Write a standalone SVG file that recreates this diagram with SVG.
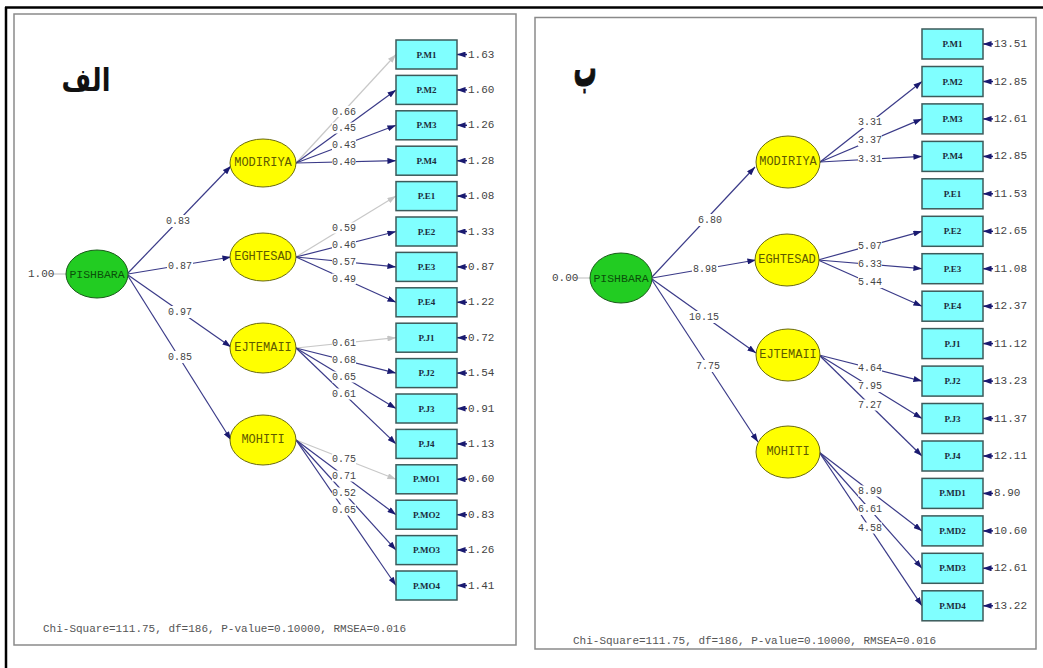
<svg xmlns="http://www.w3.org/2000/svg" width="1043" height="668" viewBox="0 0 1043 668">
<defs>
<marker id="ah" viewBox="0 0 10 7" refX="10" refY="3.5" markerWidth="9" markerHeight="6" markerUnits="userSpaceOnUse" orient="auto"><path d="M0,0 L10,3.5 L0,7 z" fill="#1a1a70"/></marker>
<marker id="ahg" viewBox="0 0 10 7" refX="10" refY="3.5" markerWidth="9" markerHeight="6" markerUnits="userSpaceOnUse" orient="auto"><path d="M0,0 L10,3.5 L0,7 z" fill="#c4c4c4"/></marker>
<style>
.ln{stroke:#3a3a88;stroke-width:1.2;fill:none;marker-end:url(#ah)}
.lg{stroke:#c8c8c8;stroke-width:1.2;fill:none;marker-end:url(#ahg)}
.lr{stroke:#1a1a70;stroke-width:1.5;fill:none;marker-end:url(#ah)}
.lv{stroke:#bbbbbb;stroke-width:1;fill:none}
.bg{fill:#fff}
.lb{font-family:"Liberation Mono",monospace;font-size:10px;fill:#444;text-anchor:middle;dominant-baseline:central}
.rs{font-family:"Liberation Mono",monospace;font-size:11px;fill:#444;dominant-baseline:central}
.bx{fill:#80ffff;stroke:#3c5a5a;stroke-width:1.5}
.bt{font-family:"Liberation Serif",serif;font-size:9px;fill:#1c2c3c;text-anchor:middle;dominant-baseline:central;font-weight:bold}
.el{fill:#ffff00;stroke:#6a6a10;stroke-width:1}
.eg{fill:#22cc22;stroke:#1a5a1a;stroke-width:1}
.et{font-family:"Liberation Mono",monospace;font-size:12px;fill:#5e5a00;text-anchor:middle;dominant-baseline:central}
.gt{font-family:"Liberation Mono",monospace;font-size:11.5px;fill:#0a500a;text-anchor:middle;dominant-baseline:central}
.ft{font-family:"Liberation Mono",monospace;font-size:11px;fill:#555}
.pn{fill:#fff;stroke:#8a8a8a;stroke-width:1.5}
.ar{font-family:"DejaVu Sans",sans-serif;font-weight:bold;font-size:32px;fill:#111;text-anchor:middle}
</style>
</defs>
<rect x="0" y="0" width="1043" height="668" fill="#fff"/>
<g id="frame">
<line x1="5" y1="7.5" x2="1043" y2="7.5" stroke="#000" stroke-width="2.5"/>
<line x1="6" y1="7" x2="6" y2="668" stroke="#000" stroke-width="2.5"/>
<rect class="pn" x="14" y="14" width="502" height="631"/>
<rect class="pn" x="535" y="17.5" width="501" height="631.5"/>
</g>
<text class="ar" transform="translate(86,91) scale(0.8,1)">الف</text>
<text class="ar" style="font-size:34px;stroke:#111;stroke-width:0.8" transform="translate(585,86) scale(0.68,1.5)">ب</text>

<g id="connectors-a">
<line class="lv" x1="52" y1="274" x2="66" y2="274"/>
<line class="ln" x1="128" y1="273" x2="231" y2="166"/>
<line class="ln" x1="128" y1="274" x2="231" y2="257"/>
<line class="ln" x1="128" y1="275" x2="231" y2="347"/>
<line class="ln" x1="128" y1="276" x2="231" y2="440"/>
<line class="lg" x1="296" y1="163" x2="396" y2="54.5"/>
<line class="ln" x1="296" y1="163" x2="396" y2="89.9"/>
<line class="ln" x1="296" y1="163" x2="396" y2="125.3"/>
<line class="ln" x1="296" y1="163" x2="396" y2="160.7"/>
<line class="lg" x1="296" y1="257" x2="396" y2="196.1"/>
<line class="ln" x1="296" y1="257" x2="396" y2="231.5"/>
<line class="ln" x1="296" y1="257" x2="396" y2="266.9"/>
<line class="ln" x1="296" y1="257" x2="396" y2="302.3"/>
<line class="lg" x1="296" y1="348" x2="396" y2="337.7"/>
<line class="ln" x1="296" y1="348" x2="396" y2="373.1"/>
<line class="ln" x1="296" y1="348" x2="396" y2="408.5"/>
<line class="ln" x1="296" y1="348" x2="396" y2="443.9"/>
<line class="lg" x1="296" y1="440" x2="396" y2="479.3"/>
<line class="ln" x1="296" y1="440" x2="396" y2="514.7"/>
<line class="ln" x1="296" y1="440" x2="396" y2="550.1"/>
<line class="ln" x1="296" y1="440" x2="396" y2="585.5"/>
<line class="lr" x1="467" y1="54.5" x2="457" y2="54.5"/>
<line class="lr" x1="467" y1="89.9" x2="457" y2="89.9"/>
<line class="lr" x1="467" y1="125.3" x2="457" y2="125.3"/>
<line class="lr" x1="467" y1="160.7" x2="457" y2="160.7"/>
<line class="lr" x1="467" y1="196.1" x2="457" y2="196.1"/>
<line class="lr" x1="467" y1="231.5" x2="457" y2="231.5"/>
<line class="lr" x1="467" y1="266.9" x2="457" y2="266.9"/>
<line class="lr" x1="467" y1="302.3" x2="457" y2="302.3"/>
<line class="lr" x1="467" y1="337.7" x2="457" y2="337.7"/>
<line class="lr" x1="467" y1="373.1" x2="457" y2="373.1"/>
<line class="lr" x1="467" y1="408.5" x2="457" y2="408.5"/>
<line class="lr" x1="467" y1="443.9" x2="457" y2="443.9"/>
<line class="lr" x1="467" y1="479.3" x2="457" y2="479.3"/>
<line class="lr" x1="467" y1="514.7" x2="457" y2="514.7"/>
<line class="lr" x1="467" y1="550.1" x2="457" y2="550.1"/>
<line class="lr" x1="467" y1="585.5" x2="457" y2="585.5"/>
<rect class="bg" x="165" y="215" width="26" height="12"/><text class="lb" x="178" y="221">0.83</text>
<rect class="bg" x="167" y="260" width="26" height="12"/><text class="lb" x="180" y="266">0.87</text>
<rect class="bg" x="167" y="306" width="26" height="12"/><text class="lb" x="180" y="312">0.97</text>
<rect class="bg" x="167" y="351" width="26" height="12"/><text class="lb" x="180" y="357">0.85</text>
<rect class="bg" x="332" y="106" width="24" height="11"/><text class="lb" x="344" y="112">0.66</text>
<rect class="bg" x="332" y="122.5" width="24" height="11"/><text class="lb" x="344" y="128">0.45</text>
<rect class="bg" x="332" y="139.5" width="24" height="11"/><text class="lb" x="344" y="145">0.43</text>
<rect class="bg" x="332" y="156.5" width="24" height="11"/><text class="lb" x="344" y="162">0.40</text>
<rect class="bg" x="332" y="222.5" width="24" height="11"/><text class="lb" x="344" y="228">0.59</text>
<rect class="bg" x="332" y="239.5" width="24" height="11"/><text class="lb" x="344" y="245">0.46</text>
<rect class="bg" x="332" y="256.5" width="24" height="11"/><text class="lb" x="344" y="262">0.57</text>
<rect class="bg" x="332" y="273.5" width="24" height="11"/><text class="lb" x="344" y="279">0.49</text>
<rect class="bg" x="332" y="337.5" width="24" height="11"/><text class="lb" x="344" y="343">0.61</text>
<rect class="bg" x="332" y="354.5" width="24" height="11"/><text class="lb" x="344" y="360">0.68</text>
<rect class="bg" x="332" y="371.5" width="24" height="11"/><text class="lb" x="344" y="377">0.65</text>
<rect class="bg" x="332" y="388.5" width="24" height="11"/><text class="lb" x="344" y="394">0.61</text>
<rect class="bg" x="332" y="453.5" width="24" height="11"/><text class="lb" x="344" y="459">0.75</text>
<rect class="bg" x="332" y="470.5" width="24" height="11"/><text class="lb" x="344" y="476">0.71</text>
<rect class="bg" x="332" y="487.5" width="24" height="11"/><text class="lb" x="344" y="493">0.52</text>
<rect class="bg" x="332" y="504.5" width="24" height="11"/><text class="lb" x="344" y="510">0.65</text>
</g>

<g id="a-PISHBARA"><text class="rs" x="28" y="274">1.00</text><ellipse class="eg" cx="97" cy="274" rx="31" ry="24"/><text class="gt" x="97" y="274">PISHBARA</text></g>
<g id="a-MODIRIYA"><ellipse class="el" cx="263" cy="163" rx="33" ry="24"/><text class="et" x="263" y="163">MODIRIYA</text></g>
<g id="a-EGHTESAD"><ellipse class="el" cx="263" cy="257" rx="33" ry="24"/><text class="et" x="263" y="257">EGHTESAD</text></g>
<g id="a-EJTEMAII"><ellipse class="el" cx="263" cy="348" rx="33" ry="25"/><text class="et" x="263" y="348">EJTEMAII</text></g>
<g id="a-MOHITI"><ellipse class="el" cx="263" cy="440" rx="33" ry="25"/><text class="et" x="263" y="440">MOHITI</text></g>

<g id="a-PM1"><rect class="bx" x="396" y="40" width="61" height="29"/><text class="bt" x="426.5" y="54.5">P.M1</text><text class="rs" x="468" y="54.5">1.63</text></g>
<g id="a-PM2"><rect class="bx" x="396" y="75.4" width="61" height="29"/><text class="bt" x="426.5" y="89.9">P.M2</text><text class="rs" x="468" y="89.9">1.60</text></g>
<g id="a-PM3"><rect class="bx" x="396" y="110.8" width="61" height="29"/><text class="bt" x="426.5" y="125.3">P.M3</text><text class="rs" x="468" y="125.3">1.26</text></g>
<g id="a-PM4"><rect class="bx" x="396" y="146.2" width="61" height="29"/><text class="bt" x="426.5" y="160.7">P.M4</text><text class="rs" x="468" y="160.7">1.28</text></g>
<g id="a-PE1"><rect class="bx" x="396" y="181.6" width="61" height="29"/><text class="bt" x="426.5" y="196.1">P.E1</text><text class="rs" x="468" y="196.1">1.08</text></g>
<g id="a-PE2"><rect class="bx" x="396" y="217" width="61" height="29"/><text class="bt" x="426.5" y="231.5">P.E2</text><text class="rs" x="468" y="231.5">1.33</text></g>
<g id="a-PE3"><rect class="bx" x="396" y="252.4" width="61" height="29"/><text class="bt" x="426.5" y="266.9">P.E3</text><text class="rs" x="468" y="266.9">0.87</text></g>
<g id="a-PE4"><rect class="bx" x="396" y="287.8" width="61" height="29"/><text class="bt" x="426.5" y="302.3">P.E4</text><text class="rs" x="468" y="302.3">1.22</text></g>
<g id="a-PJ1"><rect class="bx" x="396" y="323.2" width="61" height="29"/><text class="bt" x="426.5" y="337.7">P.J1</text><text class="rs" x="468" y="337.7">0.72</text></g>
<g id="a-PJ2"><rect class="bx" x="396" y="358.6" width="61" height="29"/><text class="bt" x="426.5" y="373.1">P.J2</text><text class="rs" x="468" y="373.1">1.54</text></g>
<g id="a-PJ3"><rect class="bx" x="396" y="394" width="61" height="29"/><text class="bt" x="426.5" y="408.5">P.J3</text><text class="rs" x="468" y="408.5">0.91</text></g>
<g id="a-PJ4"><rect class="bx" x="396" y="429.4" width="61" height="29"/><text class="bt" x="426.5" y="443.9">P.J4</text><text class="rs" x="468" y="443.9">1.13</text></g>
<g id="a-PMO1"><rect class="bx" x="396" y="464.8" width="61" height="29"/><text class="bt" x="426.5" y="479.3">P.MO1</text><text class="rs" x="468" y="479.3">0.60</text></g>
<g id="a-PMO2"><rect class="bx" x="396" y="500.2" width="61" height="29"/><text class="bt" x="426.5" y="514.7">P.MO2</text><text class="rs" x="468" y="514.7">0.83</text></g>
<g id="a-PMO3"><rect class="bx" x="396" y="535.6" width="61" height="29"/><text class="bt" x="426.5" y="550.1">P.MO3</text><text class="rs" x="468" y="550.1">1.26</text></g>
<g id="a-PMO4"><rect class="bx" x="396" y="571" width="61" height="29"/><text class="bt" x="426.5" y="585.5">P.MO4</text><text class="rs" x="468" y="585.5">1.41</text></g>
<text class="ft" x="43" y="632">Chi-Square=111.75, df=186, P-value=0.10000, RMSEA=0.016</text>

<g id="connectors-b">
<line class="lv" x1="575" y1="278" x2="590" y2="278"/>
<line class="ln" x1="652" y1="277" x2="755" y2="167"/>
<line class="ln" x1="652" y1="278" x2="756" y2="260"/>
<line class="ln" x1="652" y1="279" x2="756" y2="353"/>
<line class="ln" x1="652" y1="280" x2="758" y2="442"/>
<line class="ln" x1="820" y1="162" x2="922" y2="81.5"/>
<line class="ln" x1="820" y1="162" x2="922" y2="118.9"/>
<line class="ln" x1="820" y1="162" x2="922" y2="156.4"/>
<line class="ln" x1="818" y1="260" x2="922" y2="231.3"/>
<line class="ln" x1="818" y1="260" x2="922" y2="268.7"/>
<line class="ln" x1="818" y1="260" x2="922" y2="306.2"/>
<line class="ln" x1="819" y1="355" x2="922" y2="381.1"/>
<line class="ln" x1="819" y1="355" x2="922" y2="418.5"/>
<line class="ln" x1="819" y1="355" x2="922" y2="456"/>
<line class="ln" x1="819" y1="452" x2="922" y2="530.9"/>
<line class="ln" x1="819" y1="452" x2="922" y2="568.3"/>
<line class="ln" x1="819" y1="452" x2="922" y2="605.8"/>
<line class="lr" x1="993" y1="44" x2="983" y2="44"/>
<line class="lr" x1="993" y1="81.5" x2="983" y2="81.5"/>
<line class="lr" x1="993" y1="118.9" x2="983" y2="118.9"/>
<line class="lr" x1="993" y1="156.4" x2="983" y2="156.4"/>
<line class="lr" x1="993" y1="193.8" x2="983" y2="193.8"/>
<line class="lr" x1="993" y1="231.3" x2="983" y2="231.3"/>
<line class="lr" x1="993" y1="268.7" x2="983" y2="268.7"/>
<line class="lr" x1="993" y1="306.2" x2="983" y2="306.2"/>
<line class="lr" x1="993" y1="343.6" x2="983" y2="343.6"/>
<line class="lr" x1="993" y1="381.1" x2="983" y2="381.1"/>
<line class="lr" x1="993" y1="418.5" x2="983" y2="418.5"/>
<line class="lr" x1="993" y1="456" x2="983" y2="456"/>
<line class="lr" x1="993" y1="493.4" x2="983" y2="493.4"/>
<line class="lr" x1="993" y1="530.9" x2="983" y2="530.9"/>
<line class="lr" x1="993" y1="568.3" x2="983" y2="568.3"/>
<line class="lr" x1="993" y1="605.8" x2="983" y2="605.8"/>
<rect class="bg" x="697" y="214" width="26" height="12"/><text class="lb" x="710" y="220">6.80</text>
<rect class="bg" x="692" y="263" width="26" height="12"/><text class="lb" x="705" y="269">8.98</text>
<rect class="bg" x="688" y="311" width="32" height="12"/><text class="lb" x="704" y="317">10.15</text>
<rect class="bg" x="695" y="360" width="26" height="12"/><text class="lb" x="708" y="366">7.75</text>
<rect class="bg" x="858" y="117" width="24" height="11"/><text class="lb" x="870" y="122.5">3.31</text>
<rect class="bg" x="858" y="135.4" width="24" height="11"/><text class="lb" x="870" y="140.9">3.37</text>
<rect class="bg" x="858" y="153.7" width="24" height="11"/><text class="lb" x="870" y="159.2">3.31</text>
<rect class="bg" x="858" y="240.5" width="24" height="11"/><text class="lb" x="870" y="246">5.07</text>
<rect class="bg" x="858" y="258.8" width="24" height="11"/><text class="lb" x="870" y="264.3">6.33</text>
<rect class="bg" x="858" y="277.1" width="24" height="11"/><text class="lb" x="870" y="282.6">5.44</text>
<rect class="bg" x="858" y="362.5" width="24" height="11"/><text class="lb" x="870" y="368">4.64</text>
<rect class="bg" x="858" y="381" width="24" height="11"/><text class="lb" x="870" y="386.5">7.95</text>
<rect class="bg" x="858" y="399.5" width="24" height="11"/><text class="lb" x="870" y="405">7.27</text>
<rect class="bg" x="858" y="485.5" width="24" height="11"/><text class="lb" x="870" y="491">8.99</text>
<rect class="bg" x="858" y="504" width="24" height="11"/><text class="lb" x="870" y="509.5">6.61</text>
<rect class="bg" x="858" y="522.5" width="24" height="11"/><text class="lb" x="870" y="528">4.58</text>
</g>

<g id="b-PISHBARA"><text class="rs" x="552" y="278">0.00</text><ellipse class="eg" cx="621" cy="278" rx="31" ry="25"/><text class="gt" x="621" y="278">PISHBARA</text></g>
<g id="b-MODIRIYA"><ellipse class="el" cx="788" cy="162" rx="32" ry="26"/><text class="et" x="788" y="162">MODIRIYA</text></g>
<g id="b-EGHTESAD"><ellipse class="el" cx="787" cy="260" rx="32" ry="26"/><text class="et" x="787" y="260">EGHTESAD</text></g>
<g id="b-EJTEMAII"><ellipse class="el" cx="788" cy="355" rx="32" ry="26"/><text class="et" x="788" y="355">EJTEMAII</text></g>
<g id="b-MOHITI"><ellipse class="el" cx="788" cy="452" rx="32" ry="26"/><text class="et" x="788" y="452">MOHITI</text></g>

<g id="b-PM1"><rect class="bx" x="922" y="29" width="61" height="30"/><text class="bt" x="952.5" y="44">P.M1</text><text class="rs" x="994" y="44">13.51</text></g>
<g id="b-PM2"><rect class="bx" x="922" y="66.5" width="61" height="30"/><text class="bt" x="952.5" y="81.5">P.M2</text><text class="rs" x="994" y="81.5">12.85</text></g>
<g id="b-PM3"><rect class="bx" x="922" y="103.9" width="61" height="30"/><text class="bt" x="952.5" y="118.9">P.M3</text><text class="rs" x="994" y="118.9">12.61</text></g>
<g id="b-PM4"><rect class="bx" x="922" y="141.4" width="61" height="30"/><text class="bt" x="952.5" y="156.4">P.M4</text><text class="rs" x="994" y="156.4">12.85</text></g>
<g id="b-PE1"><rect class="bx" x="922" y="178.8" width="61" height="30"/><text class="bt" x="952.5" y="193.8">P.E1</text><text class="rs" x="994" y="193.8">11.53</text></g>
<g id="b-PE2"><rect class="bx" x="922" y="216.3" width="61" height="30"/><text class="bt" x="952.5" y="231.3">P.E2</text><text class="rs" x="994" y="231.3">12.65</text></g>
<g id="b-PE3"><rect class="bx" x="922" y="253.7" width="61" height="30"/><text class="bt" x="952.5" y="268.7">P.E3</text><text class="rs" x="994" y="268.7">11.08</text></g>
<g id="b-PE4"><rect class="bx" x="922" y="291.2" width="61" height="30"/><text class="bt" x="952.5" y="306.2">P.E4</text><text class="rs" x="994" y="306.2">12.37</text></g>
<g id="b-PJ1"><rect class="bx" x="922" y="328.6" width="61" height="30"/><text class="bt" x="952.5" y="343.6">P.J1</text><text class="rs" x="994" y="343.6">11.12</text></g>
<g id="b-PJ2"><rect class="bx" x="922" y="366.1" width="61" height="30"/><text class="bt" x="952.5" y="381.1">P.J2</text><text class="rs" x="994" y="381.1">13.23</text></g>
<g id="b-PJ3"><rect class="bx" x="922" y="403.5" width="61" height="30"/><text class="bt" x="952.5" y="418.5">P.J3</text><text class="rs" x="994" y="418.5">11.37</text></g>
<g id="b-PJ4"><rect class="bx" x="922" y="441" width="61" height="30"/><text class="bt" x="952.5" y="456">P.J4</text><text class="rs" x="994" y="456">12.11</text></g>
<g id="b-PMD1"><rect class="bx" x="922" y="478.4" width="61" height="30"/><text class="bt" x="952.5" y="493.4">P.MD1</text><text class="rs" x="994" y="493.4">8.90</text></g>
<g id="b-PMD2"><rect class="bx" x="922" y="515.9" width="61" height="30"/><text class="bt" x="952.5" y="530.9">P.MD2</text><text class="rs" x="994" y="530.9">10.60</text></g>
<g id="b-PMD3"><rect class="bx" x="922" y="553.3" width="61" height="30"/><text class="bt" x="952.5" y="568.3">P.MD3</text><text class="rs" x="994" y="568.3">12.61</text></g>
<g id="b-PMD4"><rect class="bx" x="922" y="590.8" width="61" height="30"/><text class="bt" x="952.5" y="605.8">P.MD4</text><text class="rs" x="994" y="605.8">13.22</text></g>
<text class="ft" x="573" y="644">Chi-Square=111.75, df=186, P-value=0.10000, RMSEA=0.016</text>
</svg>
